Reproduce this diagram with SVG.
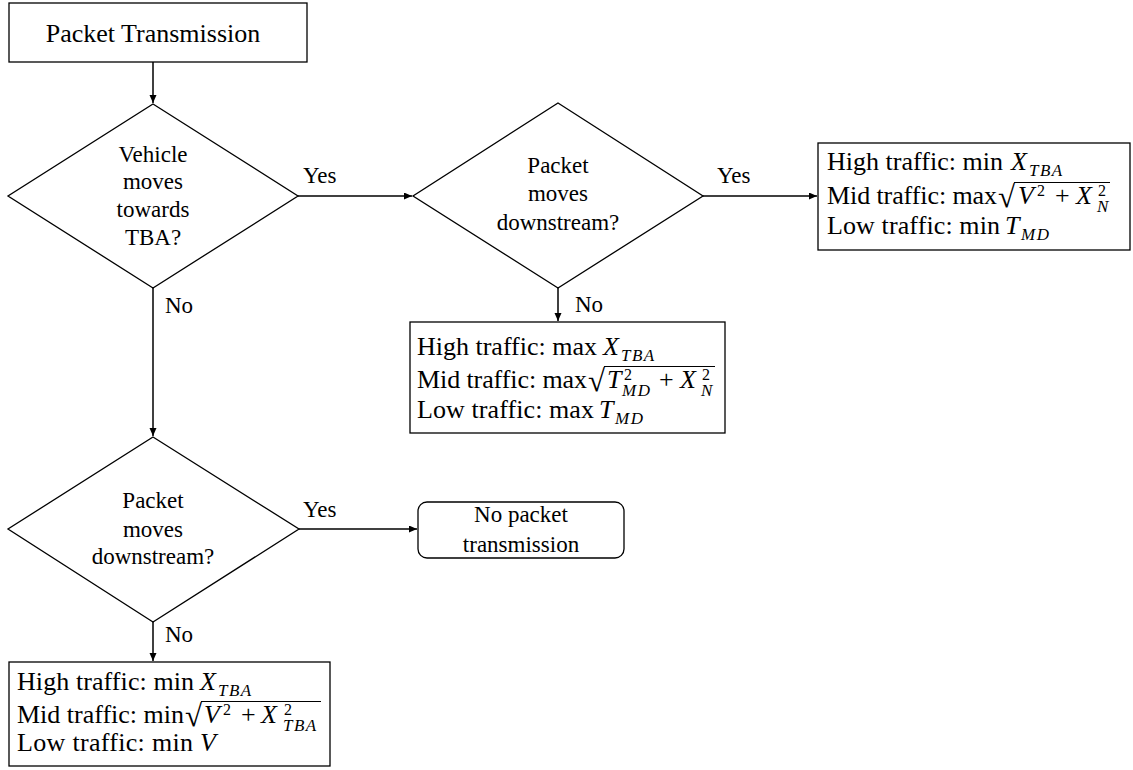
<svg xmlns="http://www.w3.org/2000/svg" width="1133" height="770" viewBox="0 0 1133 770" font-family="'Liberation Serif', 'Times New Roman', serif">
  <style>
    .shape { fill: #fff; stroke: #000; stroke-width: 1.3; }
    .conn { fill: none; stroke: #000; stroke-width: 1.5; marker-end: url(#arrow); }
    .t { font-family: 'Liberation Serif', 'Times New Roman', serif; font-size: 23px; fill: #000; }
    .c { text-anchor: middle; }
    .title { font-size: 26px; }
    .bx { font-size: 26px; }
    .mi { font-style: italic; font-size: 26px; }
    .sm { font-size: 16px; }
    .smi { font-size: 17px; font-style: italic; letter-spacing: 1.5px; }
    .rad { font-size: 31px; }
    .bar { stroke: #000; stroke-width: 1.2; }
  </style>
  <defs>
    <marker id="arrow" markerUnits="userSpaceOnUse" markerWidth="9" markerHeight="8" refX="8" refY="3.5" orient="auto">
      <path d="M0,0 L8,3.5 L0,7 z" fill="#000"/>
    </marker>
  </defs>

  <!-- connectors -->
  <g id="connectors">
    <line class="conn" x1="153" y1="62" x2="153" y2="103"/>
    <line class="conn" x1="298" y1="196" x2="412" y2="196"/>
    <line class="conn" x1="703" y1="196" x2="817" y2="196"/>
    <line class="conn" x1="558" y1="288" x2="558" y2="321"/>
    <line class="conn" x1="153" y1="288" x2="153" y2="436"/>
    <line class="conn" x1="299" y1="529" x2="417" y2="529"/>
    <line class="conn" x1="153" y1="622" x2="153" y2="661"/>
    <text class="t" x="303" y="183">Yes</text>
    <text class="t" x="717" y="183">Yes</text>
    <text class="t" x="165" y="313">No</text>
    <text class="t" x="575" y="312">No</text>
    <text class="t" x="303" y="517">Yes</text>
    <text class="t" x="165" y="642">No</text>
  </g>

  <!-- start -->
  <g id="start">
    <rect class="shape" x="9" y="3" width="298" height="59"/>
    <text class="t title c" x="153" y="42">Packet Transmission</text>
  </g>

  <!-- decision: direction of vehicle -->
  <g id="dec-vehicle">
    <polygon class="shape" points="153,104 298,196 153,288 8,196"/>
    <text class="t c" x="153" y="162">Vehicle</text>
    <text class="t c" x="153" y="189">moves</text>
    <text class="t c" x="153" y="217">towards</text>
    <text class="t c" x="153" y="245">TBA?</text>
  </g>

  <!-- decision: packet direction (vehicle towards TBA) -->
  <g id="dec-packet-a">
    <polygon class="shape" points="558,103 703,196 558,288 413,196"/>
    <text class="t c" x="558" y="173">Packet</text>
    <text class="t c" x="558" y="201">moves</text>
    <text class="t c" x="558" y="230">downstream?</text>
  </g>

  <!-- decision: packet direction (vehicle away from TBA) -->
  <g id="dec-packet-b">
    <polygon class="shape" points="153,437 299,529 153,622 8,529"/>
    <text class="t c" x="153" y="508">Packet</text>
    <text class="t c" x="153" y="537">moves</text>
    <text class="t c" x="153" y="564">downstream?</text>
  </g>

  <!-- result: towards TBA, downstream -->
  <g id="res-a-yes">
    <rect class="shape" x="818" y="143" width="312" height="107"/>
    <text class="t bx" x="827" y="170" textLength="176" lengthAdjust="spacing">High traffic: min</text>
    <text class="t mi" x="1011" y="170">X</text>
    <text class="t smi" x="1029" y="176">TBA</text>
    <text class="t bx" x="827" y="204" textLength="170" lengthAdjust="spacing">Mid traffic: max</text>
    <text class="t rad" x="998" y="207">√</text>
    <line class="bar" x1="1014" y1="182.5" x2="1110" y2="182.5"/>
    <text class="t mi" x="1018" y="204">V</text>
    <text class="t sm" x="1037" y="196">2</text>
    <text class="t bx" x="1055" y="204">+</text>
    <text class="t mi" x="1076" y="204">X</text>
    <text class="t sm" x="1098" y="196">2</text>
    <text class="t smi" x="1097" y="212">N</text>
    <text class="t bx" x="827" y="234" textLength="173" lengthAdjust="spacing">Low traffic: min</text>
    <text class="t mi" x="1005" y="234">T</text>
    <text class="t smi" x="1021" y="240">MD</text>
  </g>

  <!-- result: towards TBA, not downstream -->
  <g id="res-a-no">
    <rect class="shape" x="410" y="322" width="315" height="111"/>
    <text class="t bx" x="417" y="355" textLength="180" lengthAdjust="spacing">High traffic: max</text>
    <text class="t mi" x="603" y="355">X</text>
    <text class="t smi" x="621" y="361">TBA</text>
    <text class="t bx" x="417" y="388" textLength="170" lengthAdjust="spacing">Mid traffic: max</text>
    <text class="t rad" x="588" y="391">√</text>
    <line class="bar" x1="604" y1="366.5" x2="715" y2="366.5"/>
    <text class="t mi" x="607" y="388">T</text>
    <text class="t sm" x="624" y="380">2</text>
    <text class="t smi" x="622" y="396">MD</text>
    <text class="t bx" x="659" y="388">+</text>
    <text class="t mi" x="680" y="388">X</text>
    <text class="t sm" x="702" y="380">2</text>
    <text class="t smi" x="701" y="396">N</text>
    <text class="t bx" x="417" y="418" textLength="177" lengthAdjust="spacing">Low traffic: max</text>
    <text class="t mi" x="599" y="418">T</text>
    <text class="t smi" x="615" y="424">MD</text>
  </g>

  <!-- result: away from TBA, downstream -->
  <g id="res-b-yes">
    <rect class="shape" x="418" y="502" width="206" height="56" rx="9"/>
    <text class="t c" x="521" y="522">No packet</text>
    <text class="t c" x="521" y="552">transmission</text>
  </g>

  <!-- result: away from TBA, not downstream -->
  <g id="res-b-no">
    <rect class="shape" x="9" y="662" width="321" height="104"/>
    <text class="t bx" x="17" y="690" textLength="177" lengthAdjust="spacing">High traffic: min</text>
    <text class="t mi" x="200" y="690">X</text>
    <text class="t smi" x="218" y="696">TBA</text>
    <text class="t bx" x="17" y="723" textLength="167" lengthAdjust="spacing">Mid traffic: min</text>
    <text class="t rad" x="185" y="726">√</text>
    <line class="bar" x1="201" y1="701.5" x2="321" y2="701.5"/>
    <text class="t mi" x="204" y="723">V</text>
    <text class="t sm" x="223" y="715">2</text>
    <text class="t bx" x="241" y="723">+</text>
    <text class="t mi" x="261" y="723">X</text>
    <text class="t sm" x="284" y="715">2</text>
    <text class="t smi" x="283" y="731">TBA</text>
    <text class="t bx" x="17" y="751" textLength="176" lengthAdjust="spacing">Low traffic: min</text>
    <text class="t mi" x="200" y="751">V</text>
  </g>
</svg>
